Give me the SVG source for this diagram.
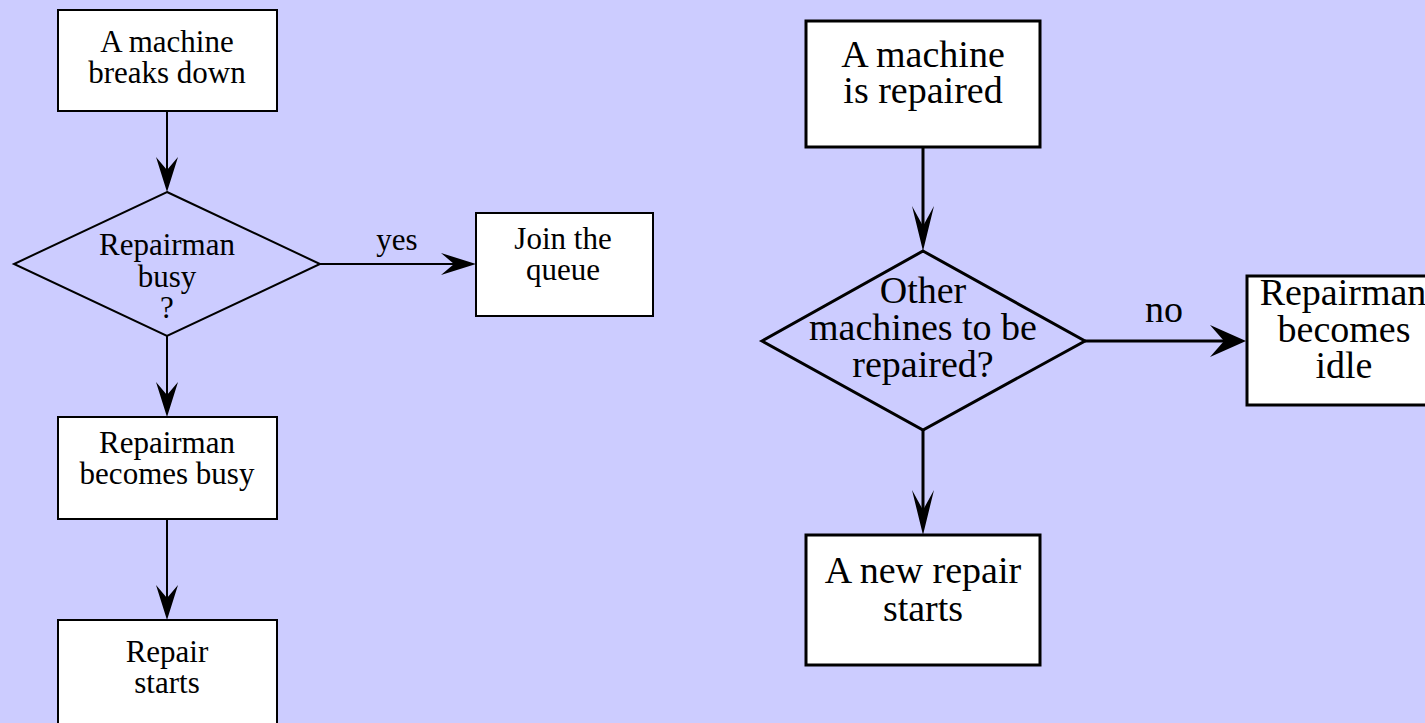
<svg xmlns="http://www.w3.org/2000/svg" width="1425" height="723" viewBox="0 0 1425 723">
<style>
.bg{fill:#ccccff}
.boxL{fill:#ffffff;stroke:#000;stroke-width:2}
.boxR{fill:#ffffff;stroke:#000;stroke-width:3}
.diaL{fill:#ccccff;stroke:#000;stroke-width:2}
.diaR{fill:#ccccff;stroke:#000;stroke-width:3}
.tL{font-family:"Liberation Serif","Times New Roman",serif;font-size:31px;fill:#000;text-anchor:middle}
.tR{font-family:"Liberation Serif","Times New Roman",serif;font-size:38px;fill:#000;text-anchor:middle}
.lnL{stroke:#000;stroke-width:2;fill:none}
.lnR{stroke:#000;stroke-width:3;fill:none}
</style>
<defs>
<marker id="arrS" markerUnits="userSpaceOnUse" viewBox="-36 -12 37 24" refX="-20" refY="0" markerWidth="37" markerHeight="24" orient="auto">
<path d="M0,0 L-35,-11 L-22,0 L-35,11 Z" fill="#000"/>
</marker>
<marker id="arrV" markerUnits="userSpaceOnUse" viewBox="-46 -12 47 24" refX="-23" refY="0" markerWidth="47" markerHeight="24" orient="auto">
<path d="M0,0 L-45,-11 L-25,0 L-45,11 Z" fill="#000"/>
</marker>
<marker id="arrH" markerUnits="userSpaceOnUse" viewBox="-37 -17 38 34" refX="-20" refY="0" markerWidth="38" markerHeight="34" orient="auto">
<path d="M0,0 L-36,-16 L-22,0 L-36,16 Z" fill="#000"/>
</marker>
</defs>
<rect class="bg" x="0" y="0" width="1425" height="723"/>
<g id="connectors">
<line class="lnL" x1="167" y1="112" x2="167" y2="172" marker-end="url(#arrS)"/>
<line class="lnL" x1="320" y1="264" x2="456" y2="264" marker-end="url(#arrS)"/>
<text class="tL" x="397" y="250">yes</text>
<line class="lnL" x1="167" y1="336" x2="167" y2="397" marker-end="url(#arrS)"/>
<line class="lnL" x1="167" y1="519" x2="167" y2="600" marker-end="url(#arrS)"/>
<line class="lnR" x1="923" y1="147" x2="923" y2="228" marker-end="url(#arrV)"/>
<line class="lnR" x1="1085" y1="341" x2="1226" y2="341" marker-end="url(#arrH)"/>
<text class="tR" x="1164" y="322">no</text>
<line class="lnR" x1="923" y1="430" x2="923" y2="512" marker-end="url(#arrV)"/>
</g>
<g id="breaks">
<rect class="boxL" x="58" y="10" width="219" height="101"/>
<text class="tL" x="167" y="52">A machine</text>
<text class="tL" x="167" y="83">breaks down</text>
</g>
<g id="busyq">
<polygon class="diaL" points="167,192 320,264 167,336 14,264"/>
<text class="tL" x="167" y="255">Repairman</text>
<text class="tL" x="167" y="287">busy</text>
<text class="tL" x="167" y="318">?</text>
</g>
<g id="queue">
<rect class="boxL" x="476" y="213" width="177" height="103"/>
<text class="tL" x="563" y="249">Join the</text>
<text class="tL" x="563" y="280">queue</text>
</g>
<g id="becomesbusy">
<rect class="boxL" x="58" y="417" width="219" height="102"/>
<text class="tL" x="167" y="453">Repairman</text>
<text class="tL" x="167" y="484">becomes busy</text>
</g>
<g id="repairstarts">
<rect class="boxL" x="58" y="620" width="219" height="110"/>
<text class="tL" x="167" y="662">Repair</text>
<text class="tL" x="167" y="693">starts</text>
</g>
<g id="repaired">
<rect class="boxR" x="806" y="21" width="234" height="126"/>
<text class="tR" x="923" y="67">A machine</text>
<text class="tR" x="923" y="103">is repaired</text>
</g>
<g id="otherq">
<polygon class="diaR" points="923,251 1085,341 923,430 762,341"/>
<text class="tR" x="923" y="303">Other</text>
<text class="tR" x="923" y="340">machines to be</text>
<text class="tR" x="923" y="377">repaired?</text>
</g>
<g id="idle">
<rect class="boxR" x="1247" y="276" width="200" height="129"/>
<text class="tR" x="1343" y="305">Repairman</text>
<text class="tR" x="1344" y="342">becomes</text>
<text class="tR" x="1344" y="378">idle</text>
</g>
<g id="newrepair">
<rect class="boxR" x="806" y="535" width="234" height="130"/>
<text class="tR" x="923" y="583">A new repair</text>
<text class="tR" x="923" y="621">starts</text>
</g>
</svg>
